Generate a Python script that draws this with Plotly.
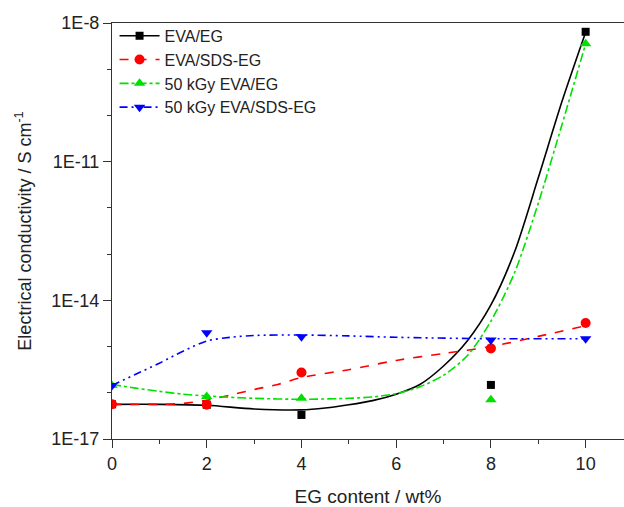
import plotly.graph_objects as go

# measured data (log10 of conductivity, S/cm)
x_pts = [0, 2, 4, 8, 10]
eva_eg = [-16.25, -16.26, -16.48, -15.83, -8.19]
eva_sds_eg = [-16.25, -16.26, -15.56, -15.04, -14.49]
kgy_eva_eg = [-15.84, -16.08, -16.12, -16.15, -8.45]
kgy_eva_sds_eg = [-15.84, -14.70, -14.79, -14.86, -14.83]

# fitted curves (log10 values)
fit_x_black = [0, 1, 2, 3, 4, 4.5, 5, 5.5, 6, 6.5, 7, 7.5, 8, 8.5, 9, 9.5, 10]
fit_black = [-16.25, -16.25, -16.27, -16.35, -16.37, -16.33, -16.26, -16.17, -16.03,
             -15.82, -15.42, -14.88, -14.1, -12.95, -11.35, -9.7, -8.2]
fit_x_green = [0, 0.5, 1, 1.5, 2, 3, 4, 5, 5.5, 6, 6.5, 7, 7.5, 8, 8.5, 9, 9.5, 10]
fit_green = [-15.82, -15.9, -15.97, -16.03, -16.07, -16.12, -16.14, -16.12, -16.09,
             -16.02, -15.87, -15.62, -15.2, -14.45, -13.4, -11.9, -10.2, -8.45]
fit_x_red = [0, 1, 1.5, 2, 2.5, 3, 3.5, 4, 5, 6, 7, 8, 9, 10]
fit_red = [-16.25, -16.25, -16.23, -16.16, -16.05, -15.93, -15.82, -15.67, -15.5,
           -15.3, -15.15, -15.0, -14.78, -14.55]
fit_x_blue = [0, 0.5, 1, 1.5, 2, 2.5, 3, 4, 5, 6, 8, 10]
fit_blue = [-15.84, -15.6, -15.36, -15.1, -14.88, -14.8, -14.76, -14.75, -14.77,
            -14.8, -14.83, -14.83]

names = ["EVA/EG", "EVA/SDS-EG", "50 kGy EVA/EG", "50 kGy EVA/SDS-EG"]
colors = ["#000000", "#ff0000", "#00e000", "#0000ff"]
symbols = ["square", "circle", "triangle-up", "triangle-down"]
sizes = [8, 10, 10, 10]
dashes = ["solid", "dash", "dashdot", "8px,4px,2px,4px,2px,4px"]
pts = [eva_eg, eva_sds_eg, kgy_eva_eg, kgy_eva_sds_eg]
fits = [(fit_x_black, fit_black), (fit_x_red, fit_red),
        (fit_x_green, fit_green), (fit_x_blue, fit_blue)]

fig = go.Figure()
for (fx, fy), c, d in zip(fits, colors, dashes):
    fig.add_trace(go.Scatter(x=fx, y=[10 ** v for v in fy], mode="lines",
                             line=dict(color=c, dash=d, width=1.6, shape="spline",
                                       smoothing=0.8),
                             showlegend=False, hoverinfo="skip"))
for p, c, s, sz in zip(pts, colors, symbols, sizes):
    fig.add_trace(go.Scatter(x=x_pts, y=[10 ** v for v in p], mode="markers",
                             marker=dict(color=c, symbol=s, size=sz),
                             showlegend=False))
for n, c, s, d, sz in zip(names, colors, symbols, dashes, sizes):
    fig.add_trace(go.Scatter(x=[None], y=[None], mode="lines+markers", name=n,
                             line=dict(color=c, dash=d, width=1.6),
                             marker=dict(color=c, symbol=s, size=sz)))

font = "Liberation Sans, Arial, sans-serif"
fig.update_layout(
    width=624, height=507,
    margin=dict(l=112, r=0, t=23, b=65),
    paper_bgcolor="white", plot_bgcolor="white",
    font=dict(family=font, size=18, color="#222"),
    legend=dict(x=0.005, y=1.01, xanchor="left", yanchor="top",
                bgcolor="rgba(0,0,0,0)", font=dict(size=16, color="#222"),
                tracegroupgap=0, itemwidth=40),
    xaxis=dict(range=[0, 10.81], tickvals=[0, 2, 4, 6, 8, 10],
               ticks="outside", ticklen=8, tickcolor="#333", showline=True,
               linecolor="#333", linewidth=1, mirror=True, showgrid=False,
               zeroline=False, tickfont=dict(size=18),
               minor=dict(tickvals=[1, 3, 5, 7, 9], ticks="outside", ticklen=4,
                          tickcolor="#333"),
               title=dict(text="EG content / wt%", standoff=20, font=dict(size=19))),
    yaxis=dict(type="log", range=[-17, -8],
               tickvals=[1e-8, 1e-11, 1e-14, 1e-17],
               ticktext=["1E-8", "1E-11", "1E-14", "1E-17"],
               ticks="outside", ticklen=8, tickcolor="#333", showline=True,
               linecolor="#333", linewidth=1, showgrid=False, zeroline=False,
               tickfont=dict(size=18),
               minor=dict(tickvals=[1e-9, 1e-10, 1e-12, 1e-13, 1e-15, 1e-16],
                          ticks="outside", ticklen=4, tickcolor="#333"),
               title=dict(text="Electrical conductivity / S cm<sup>-1</sup>",
                          standoff=15, font=dict(size=18))),
)
fig.write_html("out.html")
